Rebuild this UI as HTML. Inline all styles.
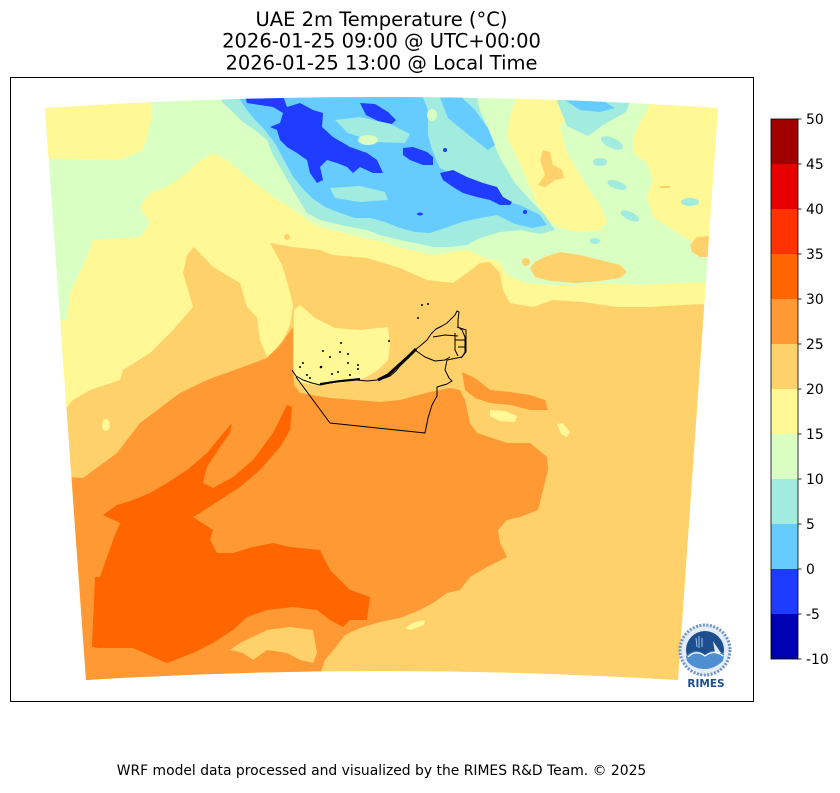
<!DOCTYPE html>
<html><head><meta charset="utf-8"><style>
html,body{margin:0;padding:0;background:#fff;}
body{width:840px;height:788px;overflow:hidden;}
svg text{font-family:"DejaVu Sans","Liberation Sans",sans-serif;fill:#000;}
</style></head><body>
<svg width="840" height="788" viewBox="0 0 840 788" xmlns="http://www.w3.org/2000/svg">
<defs>
<clipPath id="m"><path d="M45,108 Q381,86 718,108 L678,680 Q381,662 86,680 Z"/></clipPath>
</defs>
<rect width="840" height="788" fill="#fff"/>
<text x="381.5" y="26" font-size="19.5" text-anchor="middle">UAE 2m Temperature (°C)</text>
<text x="381.5" y="47.5" font-size="19.5" text-anchor="middle">2026-01-25 09:00 @ UTC+00:00</text>
<text x="381.5" y="69.3" font-size="19.5" text-anchor="middle">2026-01-25 13:00 @ Local Time</text>

<g clip-path="url(#m)">
<rect x="30" y="80" width="720" height="620" fill="#d9ffc3"/>
<polygon fill="#fff895" points="40,100 150,96 152,115 148,132 143,150 120,160 67,159 40,158"/>
<polygon fill="#fff895" points="517,96 567,96 570,113 560,127 567,153 577,170 587,187 600,205 607,222 600,230 580,232 560,228 547,220 537,203 527,180 517,157 507,137 510,117"/>
<polygon fill="#fff895" points="653,100 725,100 725,243 693,243 673,230 653,217 647,197 653,180 647,163 633,153 633,137 640,123"/>
<polygon fill="#fff895" points="40,323 67,320 70,293 87,257 93,240 140,237 150,223 140,207 150,193 167,187 187,173 197,163 213,153 227,160 247,177 273,197 290,207 307,220 320,227 333,230 360,237 387,243 400,248 433,255 467,250 483,257 500,262 507,275 525,283 560,286 600,283 640,285 680,283 730,282 730,700 40,700"/>
<polygon fill="#ffd16b" points="40,407 67,407 73,400 90,390 120,380 123,370 150,353 173,330 193,307 183,273 187,255 194,247 213,267 240,283 247,307 257,317 260,340 267,357 275,350 283,340 290,325 293,305 288,285 282,265 270,243 293,247 320,250 333,255 367,258 400,268 427,280 453,283 467,273 480,263 490,262 500,273 503,290 510,303 533,307 553,300 583,302 617,307 650,307 683,305 730,303 730,700 40,700"/>
<polygon fill="#ffd16b" points="530,268 535,262 545,257 560,252 580,255 600,260 620,265 627,272 620,278 600,281 575,283 550,281 535,277"/>
<ellipse cx="526" cy="262" rx="4" ry="4" fill="#ffd16b"/>
<ellipse cx="287" cy="237" rx="3" ry="3" fill="#ffd16b"/>
<polygon fill="#ffd16b" points="690,245 697,237 712,236 712,257 700,257 692,252"/>
<polygon fill="#ffd16b" points="543,150 550,152 553,165 562,170 564,178 555,180 545,187 538,185 545,175 540,160"/>
<rect x="660" y="186" width="10" height="2" fill="#ffd16b"/>
<polygon fill="#fff895" points="294,310 300,305 315,318 335,328 360,330 388,327 390,345 388,360 378,370 365,378 340,383 315,385 298,382 293,372"/>
<polygon fill="#ff9933" points="40,475 83,478 117,453 140,423 160,408 180,393 207,380 240,368 267,358 280,345 293,327 293,360 294,385 300,393 330,398 380,402 400,400 430,392 450,388 460,390 465,400 470,423 477,433 507,443 530,443 547,457 548,470 543,490 538,510 520,517 507,520 498,530 500,543 507,557 487,567 470,577 460,590 447,593 433,603 420,610 400,618 380,622 360,628 345,635 335,648 325,660 320,675 320,700 40,700"/>
<polygon fill="#ff9933" points="462,372 475,378 490,390 510,392 530,395 545,400 548,410 530,410 510,405 490,403 475,398 465,390"/>
<polygon fill="#ffd16b" points="230,650 240,643 267,630 290,627 313,630 317,653 313,663 300,660 287,653 267,650 253,660 243,653"/>
<polygon fill="#fff895" points="490,410 505,411 517,416 515,422 500,421 490,416"/>
<polygon fill="#fff895" points="557,424 563,423 570,432 567,437 561,434"/>
<ellipse cx="106" cy="425" rx="4" ry="6" fill="#fff895"/>
<polygon fill="#fff895" points="405,628 415,622 425,620 424,625 410,630"/>
<polygon fill="#ff6600" points="92,647 95,577 100,577 113,540 120,523 103,515 117,505 133,500 150,493 167,483 187,470 207,453 220,437 232,423 230,433 220,447 207,467 203,483 213,488 233,477 253,460 273,433 287,405 292,407 290,430 280,447 260,470 240,487 220,500 200,513 193,517 213,530 210,540 217,553 233,553 253,547 273,543 290,547 320,550 330,570 350,590 370,597 367,620 350,620 343,627 330,620 317,610 293,607 267,610 247,617 233,630 213,643 193,653 167,663 153,657 133,648 100,648"/>

<polygon fill="#a2ebdf" points="215,90 475,90 480,110 490,135 500,158 515,183 530,200 545,215 555,230 540,234 520,230 500,232 480,238 467,245 450,247 433,247 415,243 400,240 380,235 367,230 345,226 333,223 320,220 307,213 293,190 283,172 273,155 267,140 255,130 243,122 233,112 223,103"/>
<polygon fill="#a2ebdf" points="555,96 632,96 626,112 603,125 588,136 567,126"/>
<ellipse cx="612" cy="143" rx="12" ry="5" fill="#a2ebdf" transform="rotate(25 612 143)"/>
<ellipse cx="600" cy="162" rx="7" ry="4" fill="#a2ebdf"/>
<ellipse cx="617" cy="185" rx="10" ry="4" fill="#a2ebdf" transform="rotate(20 617 185)"/>
<ellipse cx="630" cy="216" rx="10" ry="4" fill="#a2ebdf" transform="rotate(25 630 216)"/>
<ellipse cx="690" cy="202" rx="9" ry="4" fill="#a2ebdf"/>
<ellipse cx="595" cy="241" rx="5" ry="3" fill="#a2ebdf"/>
<polygon fill="#66ccff" points="238,90 420,90 428,110 428,135 432,150 440,168 455,175 475,190 500,200 520,205 540,215 547,225 532,228 515,224 497,215 480,218 462,222 445,228 430,233 415,232 400,228 385,222 370,218 355,218 340,213 325,207 312,198 302,188 292,175 284,160 276,145 265,130 255,120 247,110 240,100"/>
<polygon fill="#66ccff" points="440,98 460,96 475,110 488,128 495,145 488,150 475,140 460,128 448,118"/>
<polygon fill="#66ccff" points="565,100 600,99 615,108 600,112 580,110"/>
<polygon fill="#a2ebdf" points="335,120 360,117 390,124 410,134 405,143 375,142 348,133"/>
<polygon fill="#a2ebdf" points="330,188 360,186 385,192 388,200 360,202 335,198"/>
<ellipse cx="368" cy="140" rx="10" ry="5" fill="#d9ffc3"/>
<ellipse cx="432" cy="115" rx="5" ry="6" fill="#d9ffc3"/>
<polygon fill="#1f3cff" points="245,96 283,96 287,107 300,103 313,110 323,113 322,127 333,137 350,147 367,153 377,160 383,173 373,173 360,167 353,173 347,167 337,163 327,160 320,167 323,180 317,183 310,173 307,160 297,153 287,147 280,140 277,130 270,127 280,123 283,113 273,107 260,105 247,103"/>
<polygon fill="#1f3cff" points="360,103 375,104 388,112 396,120 392,124 378,121 366,115"/>
<polygon fill="#1f3cff" points="403,148 413,147 427,152 433,157 433,165 423,165 410,160 403,155"/>
<polygon fill="#1f3cff" points="440,173 453,170 467,177 483,183 497,187 503,197 512,202 510,205 500,205 490,200 477,197 463,193 453,187 443,180"/>
<ellipse cx="445" cy="150" rx="2" ry="2" fill="#1f3cff"/>
<ellipse cx="525" cy="212" rx="2" ry="2" fill="#1f3cff"/>
<ellipse cx="420" cy="214" rx="3" ry="1.5" fill="#1f3cff"/>
</g>

<g fill="none" stroke="#000" stroke-width="1" stroke-linejoin="round">
<path d="M292,370 L296,376 L303,380 L312,383 L320,385 L330,383 L337,382 L347,381 L357,380 L367,381 L377,380 L385,378 L390,376 L396,371 L400,366 L405,361 L410,356 L415,350 L420,346 L427,340 L431,334 L436,329 L442,326 L447,323 L451,319 L455,315 L457,311 L459,312 L458,320 L458,327 L462,330 L465,337 L465,345 L465,352 L462,357 L457,358 L447,360 L445,370 L449,378 L452,381 L447,384 L437,387 L437,396 L432,405 L428,418 L425,433 L330,423 L296,377"/>
<path d="M415,350 L425,357 L435,361 L445,360 L450,357"/>
<path d="M433,337 L445,335 L458,336"/>
<path d="M455,333 L455,350 L458,356"/>
<path d="M457,327 L466,330 L466,352 L461,358"/>
<path d="M455,340 L466,340 M458,347 L466,347"/>
<path d="M378,380 L388,375 L398,366 L408,357 L416,349" stroke-width="3"/>
<path d="M320,384 L340,381 L360,379" stroke-width="2"/>
</g>
<g fill="#000">
<circle cx="341" cy="343" r="1"/><circle cx="323" cy="351" r="1"/><circle cx="330" cy="357" r="1"/>
<circle cx="340" cy="352" r="1"/><circle cx="348" cy="354" r="1"/><circle cx="348" cy="363" r="1"/>
<circle cx="321" cy="367" r="1.3"/><circle cx="358" cy="365" r="1"/><circle cx="358" cy="369" r="1"/>
<circle cx="389" cy="341" r="1"/><circle cx="418" cy="318" r="1"/><circle cx="422" cy="305" r="1"/>
<circle cx="428" cy="304" r="1"/><circle cx="303" cy="363" r="1"/><circle cx="300" cy="367" r="1"/>
<circle cx="310" cy="378" r="1"/><circle cx="332" cy="374" r="1"/><circle cx="338" cy="372" r="1"/>
<circle cx="350" cy="375" r="1"/><circle cx="307" cy="375" r="1"/>
</g>

<circle cx="705" cy="650" r="25" fill="#e4ecf5"/>
<circle cx="705" cy="650" r="25" fill="none" stroke="#6d93c4" stroke-width="3" stroke-dasharray="2 1.5"/>
<circle cx="705" cy="650" r="19" fill="#1d4f8f"/>
<path d="M686,656 Q696,647 705,655 Q714,647 724,654 L723,661 Q714,669 705,669 Q693,669 687,661 Z" fill="#4d8fd0"/>
<path d="M688,657 Q696,649 705,656 Q714,649 723,656" fill="none" stroke="#fff" stroke-width="1.2"/>
<path d="M696,638 L697,647 M699,636 L699,648 M702,638 L702,647" stroke="#9fc3ea" stroke-width="1"/>
<path d="M713,641 L721,653 L715,653 Z" fill="#ffffff" opacity="0.85"/>
<text x="706" y="687" font-size="10.5" font-weight="bold" text-anchor="middle" style="fill:#1d4f8f">RIMES</text>

<rect x="10.5" y="77.5" width="743" height="624" fill="none" stroke="#000" stroke-width="1"/>

<rect x="771" y="119" width="27" height="45" fill="#a00000"/>
<rect x="771" y="164" width="27" height="45" fill="#e60000"/>
<rect x="771" y="209" width="27" height="45" fill="#ff3300"/>
<rect x="771" y="254" width="27" height="45" fill="#ff6600"/>
<rect x="771" y="299" width="27" height="45" fill="#ff9933"/>
<rect x="771" y="344" width="27" height="45" fill="#ffd16b"/>
<rect x="771" y="389" width="27" height="45" fill="#fff895"/>
<rect x="771" y="434" width="27" height="45" fill="#d9ffc3"/>
<rect x="771" y="479" width="27" height="45" fill="#a2ebdf"/>
<rect x="771" y="524" width="27" height="45" fill="#66ccff"/>
<rect x="771" y="569" width="27" height="45" fill="#1e3cff"/>
<rect x="771" y="614" width="27" height="45" fill="#0000b3"/>
<rect x="771" y="119" width="27" height="540" fill="none" stroke="#000" stroke-width="0.8"/>
<g stroke="#000" stroke-width="0.8">
<line x1="798" y1="119" x2="801.5" y2="119"/><line x1="798" y1="164" x2="801.5" y2="164"/>
<line x1="798" y1="209" x2="801.5" y2="209"/><line x1="798" y1="254" x2="801.5" y2="254"/>
<line x1="798" y1="299" x2="801.5" y2="299"/><line x1="798" y1="344" x2="801.5" y2="344"/>
<line x1="798" y1="389" x2="801.5" y2="389"/><line x1="798" y1="434" x2="801.5" y2="434"/>
<line x1="798" y1="479" x2="801.5" y2="479"/><line x1="798" y1="524" x2="801.5" y2="524"/>
<line x1="798" y1="569" x2="801.5" y2="569"/><line x1="798" y1="614" x2="801.5" y2="614"/>
<line x1="798" y1="659" x2="801.5" y2="659"/>
</g>
<g font-size="13.9">
<text x="806" y="124">50</text><text x="806" y="169">45</text><text x="806" y="214">40</text>
<text x="806" y="259">35</text><text x="806" y="304">30</text><text x="806" y="349">25</text>
<text x="806" y="394">20</text><text x="806" y="439">15</text><text x="806" y="484">10</text>
<text x="806" y="529">5</text><text x="806" y="574">0</text><text x="806" y="619">-5</text>
<text x="806" y="664">-10</text>
</g>

<text x="381.5" y="775" font-size="13.9" text-anchor="middle">WRF model data processed and visualized by the RIMES R&amp;D Team. © 2025</text>
</svg>
</body></html>
